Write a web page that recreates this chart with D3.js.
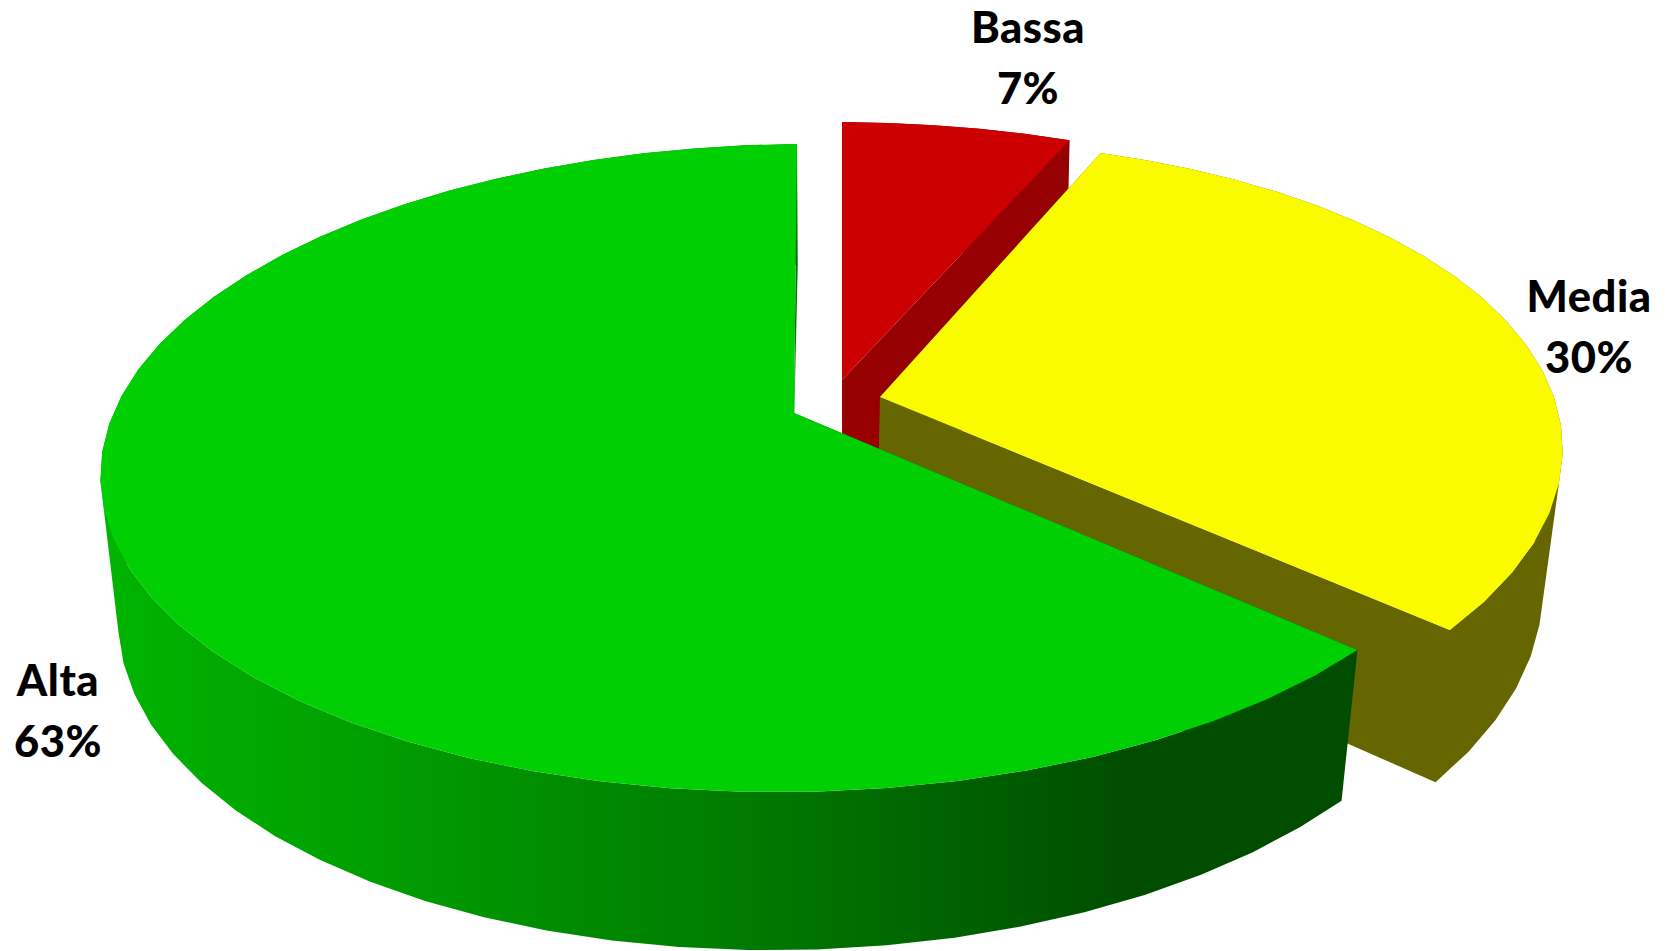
<!DOCTYPE html>
<html><head><meta charset="utf-8">
<style>html,body{margin:0;padding:0;background:#fff}svg{display:block}
text{font-family:Lato,"Open Sans",sans-serif;font-weight:900;font-size:43.5px;letter-spacing:0.5px;fill:#000;text-anchor:middle}</style>
<script src="https://cdn.jsdelivr.net/npm/d3@7"></script>
</head><body><svg id="c" width="1671" height="951"></svg>
<script>
const categories = ["Bassa","Media","Alta"];
const values = [6.4,30.5,63.1];
const percentLabels = ["7%","30%","63%"];
const topColors = ["#cc0000","#fbfb00","#00d003"];
const wallColors = ["#960000","#666600","url(#wallGrad)"];
const labelX = [1028,1589,58];
const labelY = [43,312,696];
const gradStops = [[0,"#00b400"],[0.2,"#00a000"],[0.5,"#007c00"],[0.82,"#004d00"],[1,"#004d00"]];

const topFaces = [
 {cx:842,cy:380,a:697,b:313.6,k:0.2157,c:-3,s:0},
 {cx:880,cy:397,a:668,b:310,k:0.21,c:15,s:-2},
 {cx:794,cy:413,a:683,b:314.7,k:0.1698,c:6,s:-3.5}
];
const bottomFaces = [
 {cx:842,cy:522,a:680,b:330,k:0.2,c:0,s:0},
 {cx:877,cy:536.5,a:650,b:330,k:0.2157,c:20,s:0},
 {cx:796,cy:556,a:670,b:335,k:0.15,c:11,s:-2}
];
const bottomCentreShift = [0,0,-5];

function proj(f,X,Y){const w=1-f.k*Y;return [f.cx+(f.a*X+f.s*Y)/w,f.cy+(f.b*Y-f.c*X)/w];}
const STEP=2*Math.PI/72;
const pie=d3.pie().sort(null).value(d=>d.v).startAngle(0).endAngle(2*Math.PI);
const arcs=pie(values.map((v,i)=>({v,i})));
const svg=d3.select("#c");
const grad=svg.append("defs").append("linearGradient").attr("id","wallGrad")
 .attr("gradientUnits","userSpaceOnUse").attr("x1",101).attr("x2",1357).attr("y1",0).attr("y2",0);
gradStops.forEach(s=>grad.append("stop").attr("offset",s[0]).attr("stop-color",s[1]));
const line=d3.line();
function ring(i,f){
 const a=arcs[i],pts=[],n=Math.max(1,Math.round((a.endAngle-a.startAngle)/STEP));
 for(let j=0;j<=n;j++){const t=a.startAngle+(a.endAngle-a.startAngle)*j/n;
  pts.push(proj(f,Math.sin(t),-Math.cos(t)));}
 return pts;
}
function oriented(q){return d3.polygonArea(q)<0?q.slice().reverse():q;}
[0,1,2].forEach(i=>{
 const g=svg.append("g").attr("class","slice");
 const t=ring(i,topFaces[i]),b=ring(i,bottomFaces[i]);
 const ct=proj(topFaces[i],0,0),cb0=proj(bottomFaces[i],0,0),cb=[cb0[0]+bottomCentreShift[i],cb0[1]];
 const quads=[[ct,t[0],b[0],cb],[ct,t[t.length-1],b[b.length-1],cb]];
 for(let j=0;j<t.length-1;j++)quads.push([t[j],t[j+1],b[j+1],b[j]]);
 g.append("path").attr("d",quads.map(q=>line(oriented(q))+"Z").join("")).attr("fill",wallColors[i]);
 g.append("path").attr("d",line([ct,...t])+"Z").attr("fill",topColors[i]);
});
categories.forEach((c,i)=>{
 svg.append("text").attr("x",labelX[i]).attr("y",labelY[i]).text(c);
 svg.append("text").attr("x",labelX[i]).attr("y",labelY[i]+61).text(percentLabels[i]);
});
</script></body></html>
